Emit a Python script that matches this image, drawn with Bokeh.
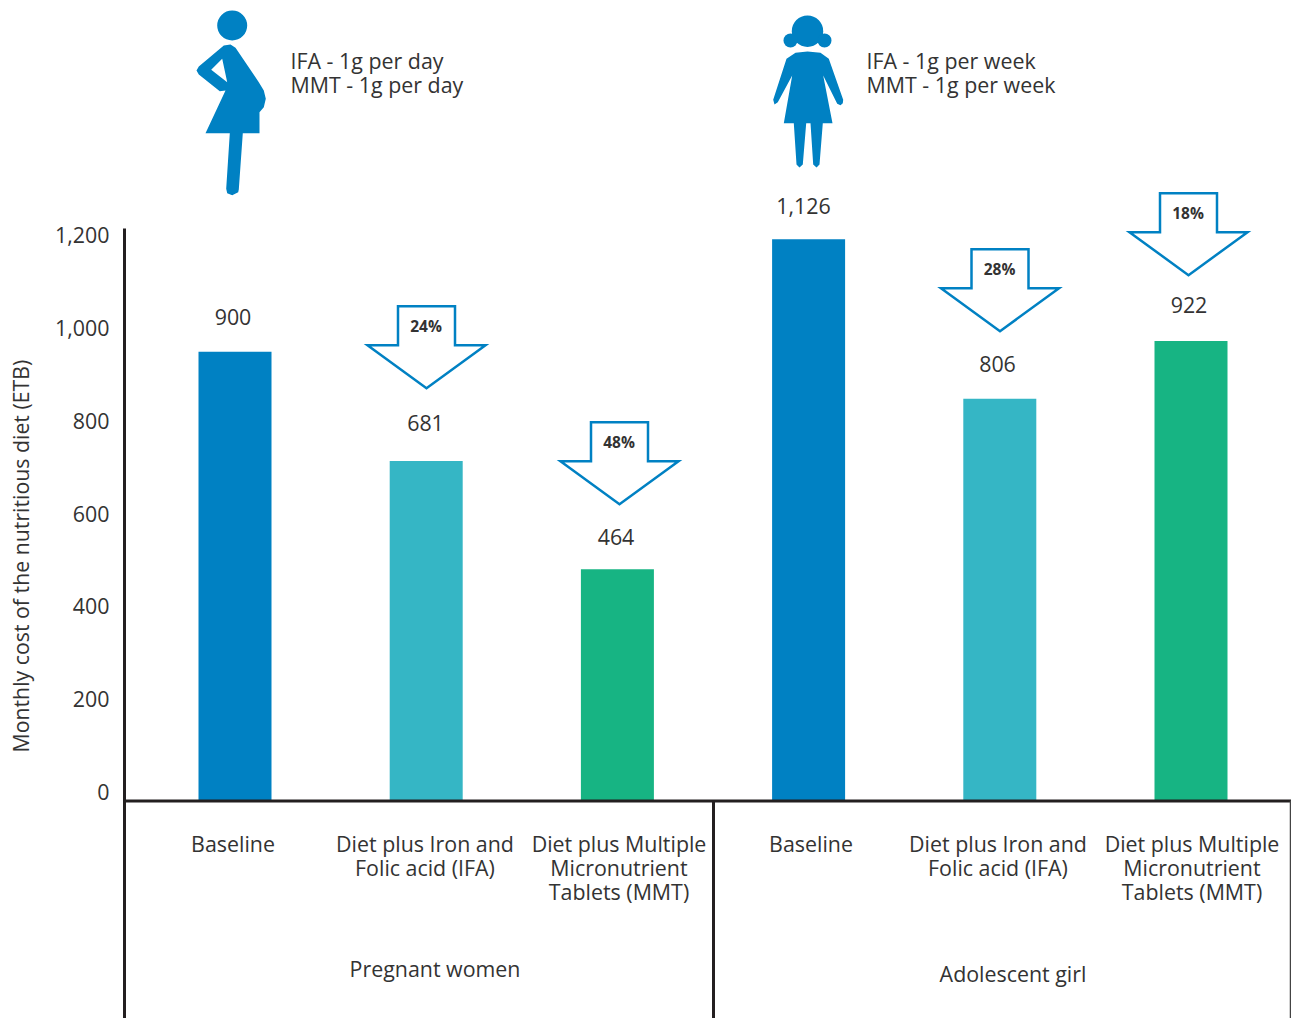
from bokeh.core.properties import value
from bokeh.embed import file_html
from bokeh.models import ColumnDataSource, FixedTicker, LinearAxis, NumeralTickFormatter, Range1d, Title
from bokeh.plotting import figure
from bokeh.resources import INLINE

# Chart data
categories = ["Baseline", "Diet plus Iron and\nFolic acid (IFA)", "Diet plus Multiple\nMicronutrient\nTablets (MMT)",
              "Baseline", "Diet plus Iron and\nFolic acid (IFA)", "Diet plus Multiple\nMicronutrient\nTablets (MMT)"]
costs = [900, 681, 464, 1126, 806, 922]
reductions = [None, "24%", "48%", None, "28%", "18%"]
groups = ["Pregnant women", "Adolescent girl"]
doses = ["IFA - 1g per day\nMMT - 1g per day", "IFA - 1g per week\nMMT - 1g per week"]
axis_ticks = [0, 200, 400, 600, 800, 1000, 1200]
axis_title = "Monthly cost of the nutritious diet (ETB)"

BLUE, TEAL, GREEN = "#0081C3", "#35B6C5", "#17B483"
bar_colors = [BLUE, TEAL, GREEN, BLUE, TEAL, GREEN]
INK, RULE = "#333333", "#231F20"
FONT = value("Open Sans")
W, H = 1291, 1018
LEFT = 125
TEXT_SIZE = "21.4px"
TICK_ZERO, TICK_SCALE = 791.5, 0.4638


# Page-pixel helpers for the decoration placed around the bars
def X(px):
    return (px - 234.5) / 191.2


def Y(py):
    return (800 - py) / 0.4985


# Layout of the labels, in page pixels
value_label_xy = [(232.5, 316), (425, 422), (615.5, 536), (803, 205), (997, 363.3), (1188.5, 304)]
category_label_x = [232.5, 424.5, 618.5, 810.5, 997.5, 1191.5]
category_label_y = 840
group_label_xy = [(434.5, 967.7), (1012.5, 972.7)]
dose_label_xy = [(290, 57.5), (866, 57.5)]
arrow_tips = [None, (426, 387.7), (619, 503.7), None, (999.5, 330.7), (1188, 274.7)]

p = figure(width=W, height=H, output_backend="svg", toolbar_location=None,
           x_range=Range1d(X(LEFT - 1), X(W)), y_range=Range1d(Y(H), Y(0)),
           min_border_left=LEFT - 1, min_border_right=0, min_border_top=0, min_border_bottom=0,
           x_axis_location=None, y_axis_location=None)
p.outline_line_color = None
p.grid.visible = False
p.background_fill_color = "white"
p.border_fill_color = "white"

# Tick labels sit on their own scale
p.extra_y_ranges["ticks"] = Range1d(-(H - TICK_ZERO) / TICK_SCALE, TICK_ZERO / TICK_SCALE)
axis = LinearAxis(y_range_name="ticks", ticker=FixedTicker(ticks=axis_ticks),
                  formatter=NumeralTickFormatter(format="0,0"),
                  bounds=(-(H - TICK_ZERO) / TICK_SCALE, (TICK_ZERO - 228) / TICK_SCALE),
                  major_label_text_font="Open Sans", major_label_text_font_size=TEXT_SIZE,
                  major_label_text_color=INK, major_label_standoff=15,
                  major_tick_line_color=None, minor_tick_line_color=None,
                  major_tick_out=0, major_tick_in=0, minor_tick_out=0, minor_tick_in=0,
                  axis_line_color=RULE, axis_line_width=3)
p.add_layout(axis, "left")

# Unlabelled axis that only widens the gap between the tick labels and the axis title
gap = LinearAxis(y_range_name="ticks", ticker=FixedTicker(ticks=[0]), axis_line_color=None,
                 major_tick_line_color=None, minor_tick_line_color=None,
                 major_tick_out=18, major_tick_in=0, minor_tick_out=0, minor_tick_in=0,
                 major_label_standoff=0, major_label_overrides={0: ""})
p.add_layout(gap, "left")

# Axis title, held clear of the frame's centre so that it reads beside the bars
p.add_layout(Title(text=axis_title, align="left", offset=H - 752, standoff=0,
                   text_font="Open Sans", text_font_size="21.3px", text_font_style="normal",
                   text_color=INK), "left")

# Bars
positions = list(range(len(costs)))
p.vbar(x=positions, top=costs, bottom=0, width=73 / 191.2, fill_color=bar_colors, line_color=None)

# Baseline and group separators
p.segment(x0=[X(LEFT)], x1=[X(W)], y0=[Y(800.5)], y1=[Y(800.5)], line_color=RULE, line_width=3)
p.segment(x0=[X(713)], x1=[X(713)], y0=[Y(800)], y1=[Y(H)], line_color=RULE, line_width=3)
p.segment(x0=[X(1290)], x1=[X(1290)], y0=[Y(800)], y1=[Y(H)], line_color="#444444", line_width=1.5)


def put_text(xy, texts, size, style="normal", align="center", baseline="middle", height=1.0):
    src = ColumnDataSource(dict(x=[X(a) for a, _ in xy], y=[Y(b) for _, b in xy], t=texts))
    p.text(x="x", y="y", text="t", source=src, text_font=FONT, text_font_size=size,
           text_font_style=style, text_color=INK, text_align=align, text_baseline=baseline,
           text_line_height=height)


# Value labels, category labels, group names and dose notes
put_text(value_label_xy, [f"{v:,}" for v in costs], TEXT_SIZE)
put_text([(x, category_label_y - 12) for x in category_label_x], categories, TEXT_SIZE,
         baseline="top", height=0.835)
put_text(group_label_xy, groups, TEXT_SIZE)
put_text([(x, y - 12) for x, y in dose_label_xy], doses, TEXT_SIZE, align="left", baseline="top", height=0.835)

# Reduction arrows, built around each tip
for tip, label in zip(arrow_tips, reductions):
    if tip is None:
        continue
    tx, ty = tip
    ax = [tx - 28.5, tx + 28.5, tx + 28.5, tx + 59, tx, tx - 59, tx - 28.5]
    ay = [ty - 82, ty - 82, ty - 43, ty - 43, ty, ty - 43, ty - 43]
    p.patch([X(a) for a in ax], [Y(a) for a in ay], fill_color="white", line_color=BLUE,
            line_width=2.5, line_join="miter")
    put_text([(tx - 0.5, ty - 62.7)], [label], "15.5px", style="bold")

# Pregnant woman pictogram
woman_outline = [(223.3, 45), (230, 44), (235, 47.3), (258.3, 81.7), (263.3, 90), (265.3, 98.3),
                 (263.3, 106.7), (259, 111.7), (259, 132.7), (242.3, 132.7), (238.3, 189),
                 (237.7, 191.7), (231.7, 194.7), (226.7, 192.7), (225.7, 188.3), (229.3, 132.7),
                 (205, 132.7), (225, 90), (219.3, 90.7), (198.3, 74), (196, 70), (198.3, 66)]
woman_gap = [(221.7, 58.3), (210.7, 69.3), (226.7, 81.7)]
p.multi_polygons(
    xs=[[[[X(a) for a, _ in woman_outline], [X(a) for a, _ in woman_gap]]]],
    ys=[[[[Y(b) for _, b in woman_outline], [Y(b) for _, b in woman_gap]]]],
    fill_color=BLUE, line_color=None)
p.scatter([X(231.7)], [Y(25)], size=30, marker="circle", fill_color=BLUE, line_color=None)

# Girl pictogram
girl_outline = [(795, 52.3), (807, 51), (820, 52.3), (828.3, 58.3), (842.7, 99.3), (842.3, 102.7),
                (840, 104.7), (836.7, 103.3), (822.7, 75), (832, 122.7), (822.3, 122.7), (819, 164),
                (816, 167), (812.7, 164), (810, 122.7), (805.7, 122.7), (802.3, 164), (799, 167),
                (796, 164), (793.3, 122.7), (783.3, 122.7), (791.7, 75), (777.3, 101.7), (774, 104),
                (772.7, 99.3), (786, 58.3)]
p.patch([X(a) for a, _ in girl_outline], [Y(b) for _, b in girl_outline], fill_color=BLUE, line_color=None)
p.scatter([X(807), X(790), X(824)], [Y(30.7), Y(40), Y(40)], size=[31.4, 14, 14],
          marker="circle", fill_color=BLUE, line_color=None)

open("out.html", "w").write(file_html(p, INLINE))
